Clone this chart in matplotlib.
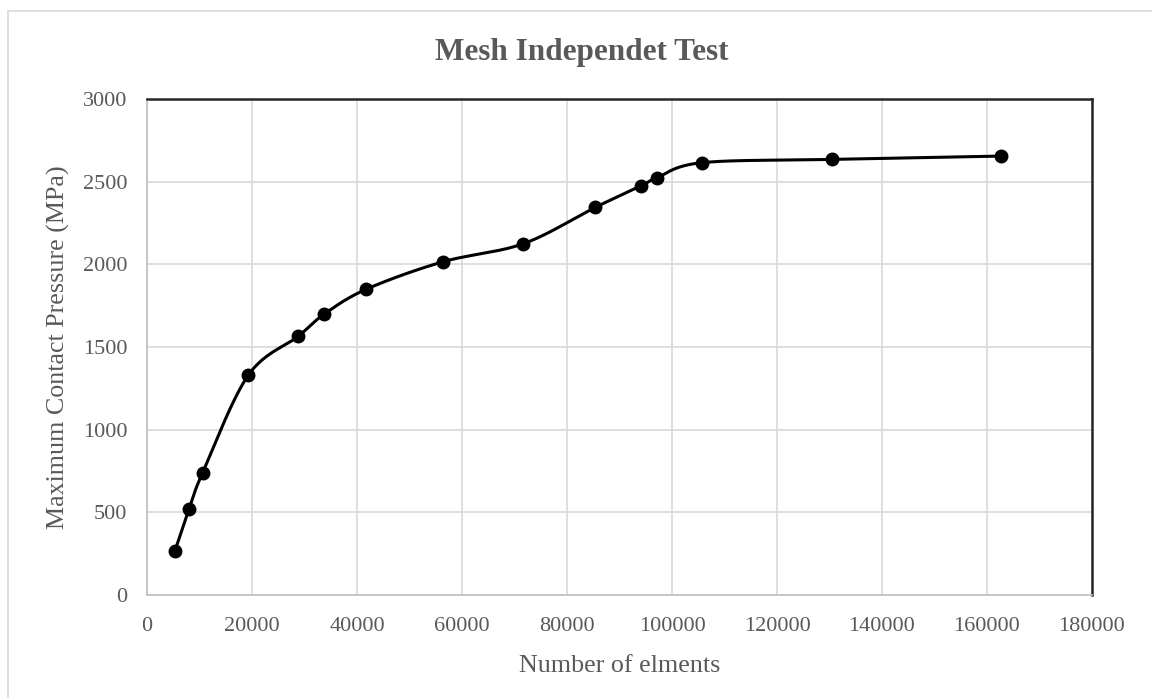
import numpy as np
import matplotlib.pyplot as plt
from matplotlib.lines import Line2D

# mesh study results
elements = [5300, 8000, 10600, 19300, 28800, 33800, 41800, 56300, 71700,
            85400, 94100, 97200, 105700, 130500, 162600]
pressure = [265, 520, 740, 1330, 1565, 1700, 1850, 2015, 2125,
            2345, 2475, 2525, 2615, 2635, 2655]

x_ticks = list(range(0, 180001, 20000))
y_ticks = list(range(0, 3001, 500))

plt.rcParams['font.family'] = ['Liberation Serif', 'DejaVu Serif']
TXT = '#595959'


def smooth_curve(ax, xs, ys, n=40):
    # Excel-style smoothed line: bezier segments with control points
    # from neighbouring points, built in display space
    pts = ax.transData.transform(np.column_stack([xs, ys]))
    out = []
    m = len(pts)
    for i in range(m - 1):
        p0 = pts[max(i - 1, 0)]
        p1 = pts[i]
        p2 = pts[i + 1]
        p3 = pts[min(i + 2, m - 1)]
        c1 = p1 + (p2 - p0) / 6.0
        c2 = p2 - (p3 - p1) / 6.0
        t = np.linspace(0, 1, n)[:, None]
        seg = ((1 - t) ** 3) * p1 + 3 * ((1 - t) ** 2) * t * c1 \
            + 3 * (1 - t) * t ** 2 * c2 + t ** 3 * p2
        out.append(seg if i == 0 else seg[1:])
    out = np.vstack(out)
    return ax.transData.inverted().transform(out)


fig = plt.figure(figsize=(11.52, 6.98), dpi=100)
ax = fig.add_axes([0.1276, 0.1476, 0.8203, 0.7105])

ax.set_xlim(0, 180000)
ax.set_ylim(0, 3000)
ax.set_xticks(x_ticks)
ax.set_yticks(y_ticks)
ax.grid(True, color='#d9d9d9', linewidth=1.2)
ax.set_axisbelow(True)
ax.tick_params(length=0, labelsize=16, labelcolor=TXT)
ax.tick_params(axis='x', pad=15.5)
ax.tick_params(axis='y', pad=14)

for side in ['left', 'bottom']:
    ax.spines[side].set_color('#bfbfbf')
    ax.spines[side].set_linewidth(1.2)
for side in ['top', 'right']:
    ax.spines[side].set_color('#262626')
    ax.spines[side].set_linewidth(1.8)

curve = smooth_curve(ax, elements, pressure)
ax.plot(curve[:, 0], curve[:, 1], color='black', linewidth=2.2, zorder=3)
ax.plot(elements, pressure, 'o', color='black', markersize=9, zorder=4)

ax.set_xlabel('Number of elments', fontsize=18.7, color=TXT)
ax.set_ylabel('Maximum Contact Pressure (MPa)', fontsize=18.7, color=TXT)
ax.xaxis.set_label_coords(0.5, -0.122)
ax.yaxis.set_label_coords(-0.0815, 0.5)
fig.text(0.505, 0.914, 'Mesh Independet Test', ha='center', va='baseline',
         fontsize=22.5, fontweight='bold', color=TXT)

# chart area border
fig.add_artist(Line2D([8 / 1152, 8 / 1152], [0, 1 - 11 / 698],
                      transform=fig.transFigure, color='#d9d9d9', linewidth=1.2))
fig.add_artist(Line2D([8 / 1152, 1], [1 - 11 / 698, 1 - 11 / 698],
                      transform=fig.transFigure, color='#d9d9d9', linewidth=1.2))

fig.savefig('out.png', dpi=100)
plt.close(fig)
